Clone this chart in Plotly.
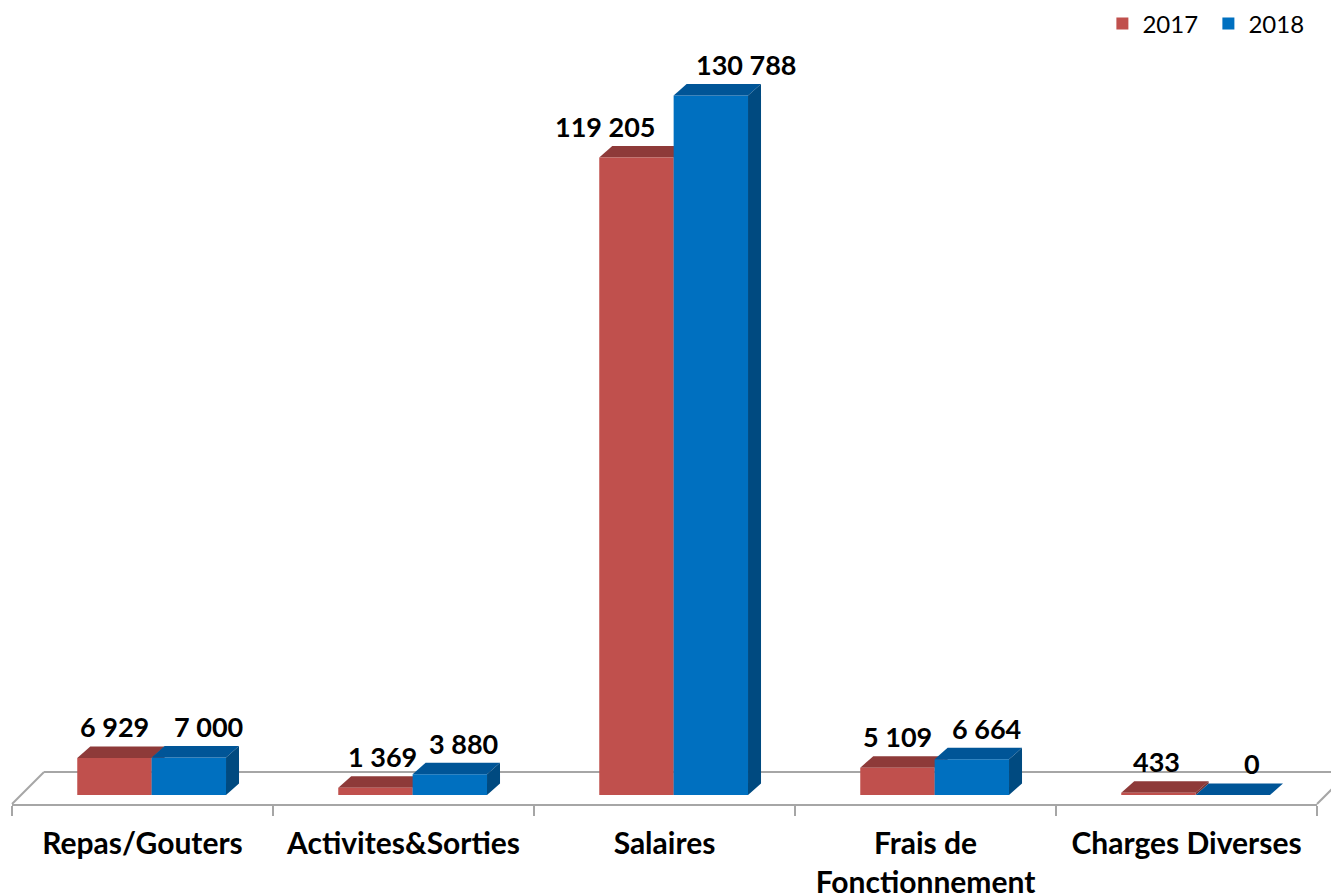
import plotly.graph_objects as go

# ---- data ----
categories = ["Repas/Gouters", "Activites&Sorties", "Salaires",
              "Frais de<br>Fonctionnement", "Charges Diverses"]
series_names = ["2017", "2018"]
values_2017 = [6929, 1369, 119205, 5109, 433]
values_2018 = [7000, 3880, 130788, 6664, 0]
series_values = [values_2017, values_2018]

# ---- layout constants ----
W, H = 1339, 896
ML, MR, MT, MB = 4, 30, 42, 100
PW, PH = W - ML - MR, H - MT - MB
X_RANGE = [-0.5, 4.5]
Y_RANGE = [-1690, 139300]
ppx = PW / (X_RANGE[1] - X_RANGE[0])
ppy = PH / (Y_RANGE[1] - Y_RANGE[0])
DEPTH_X = 13 / ppx
DEPTH_Y = 11.5 / ppy
BAR_W = 0.285
OFFSETS = [-0.25, 0.035]
FRONT = ["#C0504D", "#0070C0"]
TOP = ["#8E3A39", "#005597"]
SIDE = ["#7A3230", "#004A80"]
LABEL_SHIFT = [[0, 7, -31, 0, -2], [20, 14, 36, 15, 19]]
FONT = "Lato"
GRAY = "#A6A6A6"

fig = go.Figure()
shapes = []
annotations = []
xs = list(range(len(categories)))

for s, (name, vals) in enumerate(zip(series_names, series_values)):
    fig.add_trace(go.Bar(
        x=xs, y=vals, name=name, width=BAR_W, offset=OFFSETS[s],
        marker=dict(color=FRONT[s], line=dict(width=0)),
        hovertemplate="%{y}<extra>" + name + "</extra>",
    ))
    layer = "below" if s == 0 else "above"
    for i, v in enumerate(vals):
        x0 = i + OFFSETS[s]
        x1 = x0 + BAR_W
        # top face
        shapes.append(dict(
            type="path", xref="x", yref="y", layer=layer,
            path=f"M {x0},{v} L {x1},{v} L {x1 + DEPTH_X},{v + DEPTH_Y} L {x0 + DEPTH_X},{v + DEPTH_Y} Z",
            fillcolor=TOP[s], line=dict(width=0),
        ))
        # side face
        if v > 0:
            shapes.append(dict(
                type="path", xref="x", yref="y", layer=layer,
                path=f"M {x1},0 L {x1 + DEPTH_X},{DEPTH_Y} L {x1 + DEPTH_X},{v + DEPTH_Y} L {x1},{v} Z",
                fillcolor=SIDE[s], line=dict(width=0),
            ))
        annotations.append(dict(
            x=(x0 + x1) / 2, y=v + DEPTH_Y, xref="x", yref="y",
            text=f"{v:,}".replace(",", " "), showarrow=False,
            xanchor="center", yanchor="bottom", xshift=LABEL_SHIFT[s][i], yshift=1,
            font=dict(family=FONT, size=27, color="black", weight="bold"),
        ))

# floor (3D base)
fx, fy = 32 / PW, 32 / PH
for (a, b, c, d) in [(0, 0, fx, fy), (fx, fy, 1 + fx, fy), (1, 0, 1 + fx, fy)]:
    shapes.append(dict(type="line", xref="paper", yref="paper", layer="below",
                       x0=a, y0=b, x1=c, y1=d, line=dict(color=GRAY, width=2)))

fig.update_layout(
    width=W, height=H,
    margin=dict(l=ML, r=MR, t=MT, b=MB, autoexpand=False),
    plot_bgcolor="white", paper_bgcolor="white",
    barmode="overlay",
    shapes=shapes, annotations=annotations,
    showlegend=True,
    legend=dict(orientation="h", x=0.998, xanchor="right",
                y=(PH + (MT - 16)) / PH, yanchor="middle",
                font=dict(family=FONT, size=24, color="black"),
                itemwidth=30, entrywidth=61, entrywidthmode="pixels"),
    xaxis=dict(type="linear", range=X_RANGE, tickmode="array", tickvals=xs,
               ticktext=categories, ticks="", showgrid=False, zeroline=False,
               showline=True, linecolor=GRAY, linewidth=2,
               ticklabelstandoff=12,
               tickfont=dict(family=FONT, size=30, color="black", weight="bold"),
               minor=dict(tickmode="array",
                          tickvals=[k - 0.5 for k in range(len(categories) + 1)],
                          ticks="outside", ticklen=10, tickcolor=GRAY, tickwidth=2,
                          showgrid=False),
               fixedrange=True),
    yaxis=dict(range=Y_RANGE, visible=False, fixedrange=True),
)

fig.write_html("out.html")
